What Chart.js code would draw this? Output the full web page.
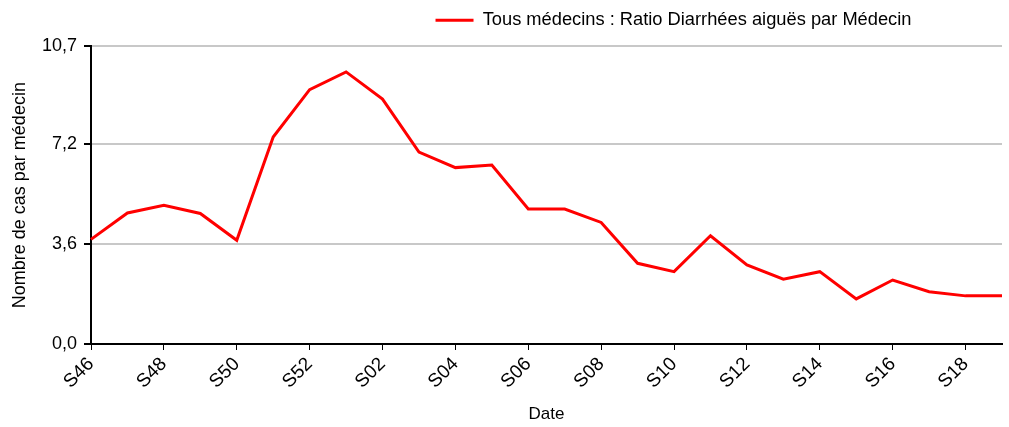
<!DOCTYPE html>
<html>
<head>
<meta charset="utf-8">
<script src="https://cdn.jsdelivr.net/npm/chart.js@4"></script>
<style>
  body { margin: 0; background: #fff; }
  #wrap { width: 1009px; height: 427px; }
</style>
</head>
<body>
<div id="wrap"><canvas id="lineChart"></canvas></div>
<script>
// Data ------------------------------------------------------------

const weeks = ['S46', 'S47', 'S48', 'S49', 'S50', 'S51', 'S52',
  'S01', 'S02', 'S03', 'S04', 'S05', 'S06', 'S07', 'S08', 'S09', 'S10',
  'S11', 'S12', 'S13', 'S14', 'S15', 'S16', 'S17', 'S18', 'S19'];

const ratio = [3.76, 4.71, 4.99, 4.69, 3.73, 7.44, 9.14,
  9.78, 8.80, 6.90, 6.34, 6.43, 4.85, 4.85, 4.37, 2.90, 2.60,
  3.89, 2.84, 2.33, 2.60, 1.62, 2.30, 1.88, 1.73, 1.73];

const yTicks = [0, 3.6, 7.2, 10.7];

const seriesName = 'Tous médecins : Ratio Diarrhées aiguës par Médecin';

// Chart -----------------------------------------------------------

const font = { family: 'Liberation Sans, Arial, sans-serif', size: 17 };

// move the legend up and to the right, like the original
const legendShift = {
  id: 'legendShift',
  afterLayout(chart) {
    chart.legend.left += 168;
    chart.legend.right += 168;
    chart.legend.top -= 7;
    chart.legend.bottom -= 7;
  }
};

const data = {
  labels: weeks,
  datasets: [{
    label: seriesName,
    data: ratio,
    borderColor: '#ff0000',
    backgroundColor: '#ff0000',
    borderWidth: 3,
    pointRadius: 0,
    tension: 0
  }]
};

const config = {
  type: 'line',
  data,
  options: {
    responsive: true,
    maintainAspectRatio: false,
    animation: false,
    layout: { padding: { top: 6, right: 7, left: 9, bottom: 2 } },
    plugins: {
      tooltip: { enabled: false },
      legend: {
        position: 'top',
        labels: {
          color: '#000',
          font: { family: font.family, size: 18.3 },
          usePointStyle: true,
          pointStyle: 'line',
          pointStyleWidth: 38,
          padding: 12
        }
      }
    },
    scales: {
      x: {
        offset: false,
        afterFit: (scale) => { scale.height = 81; },
        grid: { drawOnChartArea: false, drawTicks: true, tickLength: 6, tickColor: '#000' },
        border: { color: '#000', width: 2 },
        ticks: {
          autoSkip: false,
          maxRotation: 45,
          minRotation: 45,
          color: '#000',
          font: { family: font.family, size: 19 },
          padding: 3,
          callback: function (val, i) {
            return i % 2 === 0 ? weeks[i] : null;
          }
        },
        title: { display: true, text: 'Date', color: '#000', font, padding: { top: 0, bottom: 0 } }
      },
      y: {
        min: 0,
        max: 10.7,
        afterFit: (scale) => { scale.width = 82; },
        afterBuildTicks: (scale) => {
          scale.ticks = yTicks.map(v => ({ value: v }));
        },
        grid: { color: '#c8c8c8', lineWidth: 2, tickColor: '#000', tickLength: 7 },
        border: { color: '#000', width: 2 },
        ticks: {
          color: '#000',
          font: { family: font.family, size: 18 },
          padding: 7,
          callback: (v) => Number(v).toFixed(1).replace('.', ',')
        },
        title: { display: true, text: 'Nombre de cas par médecin', color: '#000', font: { family: font.family, size: 18 }, padding: { top: 0, bottom: 4 } }
      }
    }
  },
  plugins: [legendShift]
};

const lineChart = new Chart(document.getElementById('lineChart'), config);
</script>
</body>
</html>
